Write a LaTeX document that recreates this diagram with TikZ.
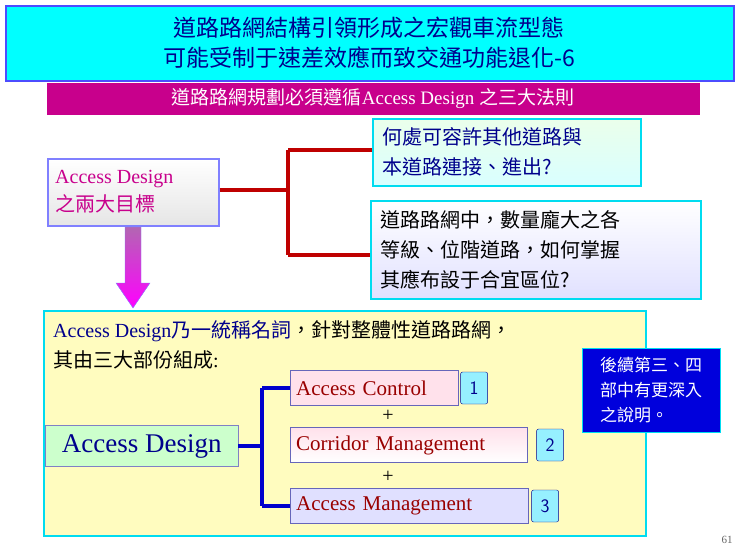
\documentclass[tikz,border=0pt]{standalone}
\usepackage{fontspec}
\setmainfont{Liberation Serif}
\newfontfamily\cjk{Noto Sans CJK TC}
\usetikzlibrary{positioning}
\definecolor{navy}{RGB}{0,0,140}
\definecolor{cyanbd}{RGB}{0,220,240}
\definecolor{cyanfill}{RGB}{0,255,255}
\definecolor{lightcyan}{RGB}{150,240,255}
\definecolor{magbar}{RGB}{200,0,140}
\definecolor{pinkbox}{RGB}{255,225,235}
\definecolor{notebl}{RGB}{0,0,220}
\tikzset{
  box/.style={draw=cyanbd,line width=1.5pt,anchor=north west,inner sep=0pt},
  txt/.style={anchor=west,align=left,inner sep=0pt},
  num/.style={draw=navy,fill=lightcyan,rounded corners=2pt,minimum width=27pt,minimum height=32pt,font=\sffamily\fontsize{19}{19}\selectfont,text=navy},
  item/.style={draw=navy!60,anchor=west,minimum height=35pt,inner sep=6pt,align=left,font=\fontsize{21}{21}\selectfont,text=red!60!black}
}
\begin{document}
\begin{tikzpicture}[x=1pt,y=-1pt]
\useasboundingbox (0,0) rectangle (740,557);
% title
\node[box,draw=blue!70,fill=cyanfill,minimum width=728pt,minimum height=75pt] (title) at (5,5) {};
\node[align=center,text=navy,font=\cjk\fontsize{23}{30}\selectfont] (titletxt) at (369,43) {道路路網結構引領形成之宏觀車流型態\\可能受制于速差效應而致交通功能退化-6};
\node[anchor=north west,fill=magbar,minimum width=653pt,minimum height=32pt,inner sep=0pt] (bar) at (47,83) {};
\node[text=white,font=\cjk\fontsize{19}{19}\selectfont] (bartxt) at (373,99) {道路路網規劃必須遵循\rmfamily Access Design \cjk 之三大法則};
% goals
\node[box,draw=blue!50,top color=white,bottom color=gray!20,minimum width=171pt,minimum height=67pt] (goal) at (47,158) {};
\node[txt,text=magbar,font=\fontsize{20}{28}\selectfont] (goaltxt) at (55,192) {Access Design\\{\cjk 之兩大目標}};
\node[box,top color=green!8,bottom color=cyan!15,minimum width=268pt,minimum height=67pt] (q1) at (372,118) {};
\node[txt,text=navy,font=\cjk\fontsize{20}{30}\selectfont] (q1txt) at (382,152) {何處可容許其他道路與\\本道路連接、進出?};
\node[box,top color=white,bottom color=blue!12,minimum width=330pt,minimum height=98pt] (q2) at (370,200) {};
\node[txt,font=\cjk\fontsize{20}{30}\selectfont] (q2txt) at (380,250) {道路路網中，數量龐大之各\\等級、位階道路，如何掌握\\其應布設于合宜區位?};
\coordinate (rj) at (288,190);
\draw[red!75!black,line width=4pt] (goal.east|-rj) -- (rj) (288,150) -- (288,255) (288,150) -- (q1.west|-0,150) (288,255) -- (q2.west|-0,255);
% arrow
\draw[draw=blue!50,top color=violet!60,bottom color=magenta] (125,227) -- (141,227) -- (141,283) -- (150,283) -- (133,308) -- (116,283) -- (125,283) -- cycle;
% design box
\node[box,fill=yellow!25,minimum width=602pt,minimum height=225pt] (design) at (43,310) {};
\node[txt,font=\fontsize{20}{30}\selectfont] (dtxt) at (53,345) {\textcolor{navy}{Access Design\cjk 乃一統稱名詞}{\cjk ，針對整體性道路路網，}\\{\cjk 其由三大部份組成}:};
\node[anchor=north west,fill=notebl,draw=cyanbd,minimum width=138pt,minimum height=84pt] (note) at (582,348) {};
\node[text=white,align=left,font=\cjk\fontsize{17}{25}\selectfont] (notetxt) at (651,390) {後續第三、四\\部中有更深入\\之說明。};
\node[anchor=west,draw=navy!50,fill=green!20,minimum width=193pt,minimum height=41pt,font=\fontsize{27}{27}\selectfont,text=navy] (ad) at (45,446) {Access Design};
\node[item,fill=pinkbox,text width=156pt] (ac) at (290,388) {Access Control};
\node[item,top color=pinkbox,bottom color=white,text width=225pt] (cm) at (290,445) {Corridor Management};
\node[item,fill=blue!12,text width=226pt] (am) at (290,506) {Access Management};
\node[num,right=2pt of ac] (n1) {1};
\node[num,right=9pt of cm] (n2) {2};
\node[num,right=3pt of am] (n3) {3};
\node[font=\fontsize{20}{20}\selectfont] (p1) at (388,416) {+};
\node[font=\fontsize{20}{20}\selectfont] (p2) at (388,477) {+};
\coordinate (bj) at (262,446);
\draw[blue!80!black,line width=4pt] (ad.east) -- (bj) (262,388) -- (262,506) (262,388) -- (ac.west) (262,506) -- (am.west);
\node[text=gray!80!black,font=\fontsize{11}{11}\selectfont] (page) at (727,540) {61};
\end{tikzpicture}
\end{document}
